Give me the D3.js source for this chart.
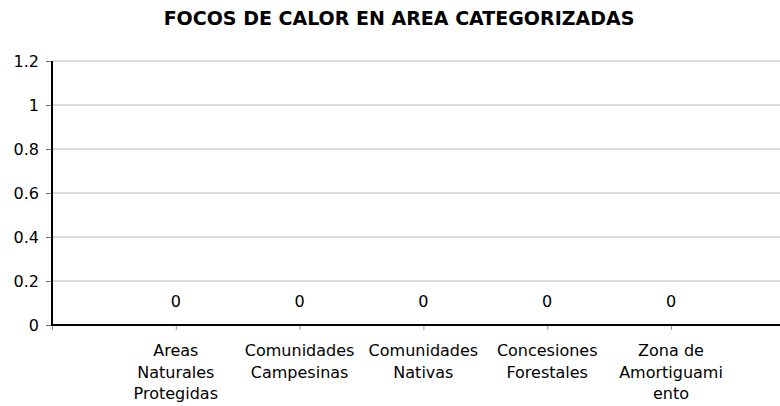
<!DOCTYPE html>
<html><head><meta charset="utf-8">
<script src="https://cdn.jsdelivr.net/npm/d3@7"></script>
<style>body{margin:0;background:#fff}svg{display:block}</style>
</head><body><svg id="c" width="780" height="406"></svg>
<script>
const title = "FOCOS DE CALOR EN AREA CATEGORIZADAS";
const categories = [
  ["Areas","Naturales","Protegidas"],
  ["Comunidades","Campesinas"],
  ["Comunidades","Nativas"],
  ["Concesiones","Forestales"],
  ["Zona de","Amortiguami","ento"]
];
const values = [0, 0, 0, 0, 0];
const yTicks = [0, 0.2, 0.4, 0.6, 0.8, 1, 1.2];

(function () {
const svg = d3.select("#c");
const font = "Tahoma, 'DejaVu Sans', Verdana, sans-serif";
const mL = 52, mR = 780, mT = 61, mB = 325;
const keys = ["_start", ...categories.map(c => c.join(" ")), "_end"];
const x = d3.scalePoint().domain(keys).range([mL, mL + 6 * 123.8]);
const y = d3.scaleLinear().domain([0, 1.2]).range([mB, mT]);

svg.append("text").attr("x", 399).attr("y", 25).attr("text-anchor", "middle")
  .attr("font-family", font).attr("font-weight", "bold").attr("font-size", 19)
  .attr("fill", "#000").text(title);

svg.append("g").selectAll("line").data(yTicks.filter(d => d > 0)).join("line")
  .attr("x1", mL).attr("x2", mR).attr("y1", d => y(d)).attr("y2", d => y(d))
  .attr("stroke", "#dcdcdc").attr("stroke-width", 2);

const ya = svg.append("g").attr("transform", `translate(${mL},0)`)
  .call(d3.axisLeft(y).tickValues(yTicks).tickSize(6).tickPadding(7).tickFormat(d3.format("~g")));
ya.select(".domain").remove();
ya.selectAll(".tick line").attr("stroke", "#777");
ya.selectAll("text").attr("font-family", font).attr("font-size", 16).attr("fill", "#000");
svg.append("line").attr("x1", mL).attr("x2", mL).attr("y1", mT).attr("y2", mB + 1)
  .attr("stroke", "#000").attr("stroke-width", 2);

const catKeys = keys.slice(1, 6);
const xa = svg.append("g").attr("transform", `translate(0,${mB})`)
  .call(d3.axisBottom(x).tickValues(["_start", ...catKeys]).tickSize(5).tickFormat(""));
xa.select(".domain").remove();
xa.selectAll(".tick line").attr("stroke", "#999");
svg.append("line").attr("x1", mL - 1).attr("x2", mR).attr("y1", mB).attr("y2", mB)
  .attr("stroke", "#000").attr("stroke-width", 2);

const lab = svg.append("g").selectAll("text").data(categories).join("text")
  .attr("x", (d, i) => x(catKeys[i])).attr("y", 356)
  .attr("text-anchor", "middle").attr("font-family", font).attr("font-size", 16).attr("fill", "#000");
lab.selectAll("tspan").data(d => d).join("tspan")
  .attr("x", function() { return this.parentNode.getAttribute("x"); })
  .attr("dy", (d, i) => i === 0 ? 0 : 21.5).text(d => d);

svg.append("g").selectAll("text").data(values).join("text")
  .attr("x", (d, i) => x(catKeys[i])).attr("y", y(0) - 18)
  .attr("text-anchor", "middle").attr("font-family", font).attr("font-size", 16).attr("fill", "#000")
  .text(d => d);
})();
</script></body></html>
